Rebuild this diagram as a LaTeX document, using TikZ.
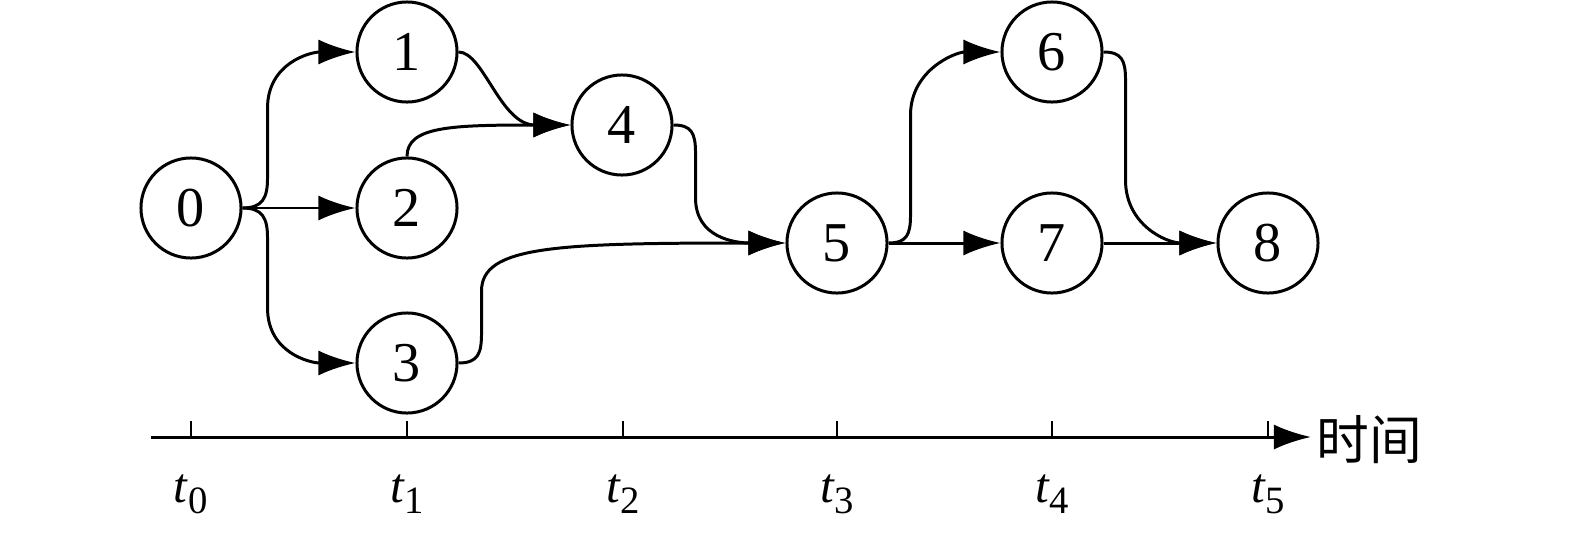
\documentclass[tikz,border=0pt]{standalone}
\usepackage{fontspec}
\setmainfont{Liberation Serif}
\newfontfamily\cjk{Noto Sans CJK SC}
\usetikzlibrary{arrows.meta}
\newcommand\tsub[1]{\textit{t}\raisebox{-3.4pt}{\fontsize{11}{11}\selectfont #1}}
\tikzset{event/.style={circle,draw,line width=0.85pt,minimum size=1cm,inner sep=0pt,
    font=\fontsize{16}{16}\selectfont},
    arr/.style={-{Latex[length=3.7mm,width=2.5mm]},line width=0.85pt},
    tickmark/.style={line width=0.6pt},
    tlabel/.style={anchor=base,font=\fontsize{14}{14}\selectfont},
    }

\begin{document}
\begin{tikzpicture}[x=0.01cm,y=-0.01cm]
\useasboundingbox (0,0) rectangle (1575,533);
\node[event] (n0) at (191,208) {0};
\node[event] (n1) at (407,52) {1};
\node[event] (n2) at (407,208) {2};
\node[event] (n3) at (407,363) {3};
\node[event] (n4) at (622,125) {4};
\node[event] (n5) at (837,243) {5};
\node[event] (n6) at (1052,52) {6};
\node[event] (n7) at (1052,243) {7};
\node[event] (n8) at (1268,243) {8};

\draw[arr] (n0.east) -- (n2.west);
\draw[arr] (n0.east) .. controls +(20,0) and +(0,20) .. ++(25,-30) -- ++(0,-70)
    .. controls +(0,-45) and +(-45,0) .. (n1.west);
\draw[arr] (n0.east) .. controls +(20,0) and +(0,-20) .. ++(25,30) -- ++(0,70)
    .. controls +(0,45) and +(-45,0) .. (n3.west);
\draw[arr] (n1.east) .. controls +(25,0) and +(-70,0) .. (n4.west);
\draw[arr] (n2.north) .. controls +(0,-30) and +(-120,0) .. (n4.west);
\draw[arr] (n3.east) .. controls +(20,0) and +(0,20) .. ++(23,-30) -- ++(0,-42)
    .. controls +(0,-45) and +(-230,0) .. (n5.west);
\draw[arr] (n4.east) .. controls +(18,0) and +(0,-20) .. ++(22,28) -- ++(0,45)
    .. controls +(0,40) and +(-50,0) .. (n5.west);
\draw[arr] (n5.east) .. controls +(18,0) and +(0,20) .. ++(22,-28) -- ++(0,-100)
    .. controls +(0,-45) and +(-45,0) .. (n6.west);
\draw[arr] (n5.east) -- (n7.west);
\draw[arr] (n6.east) .. controls +(18,0) and +(0,-20) .. ++(22,28) -- ++(0,100)
    .. controls +(0,45) and +(-50,0) .. (n8.west);
\draw[arr] (n7.east) -- (n8.west);

% time axis
\coordinate (ax0) at (151,437);
\node[anchor=west,inner sep=1.5pt,font=\cjk\fontsize{15}{15}\selectfont] (time) at (1311,440) {时间};
\draw[arr] (ax0) -- (ax0 -| time.west);
\foreach \x [count=\i from 0] in {191,407,623,837,1052,1268}{
  \draw[tickmark] (\x,437) -- ++(0,-16);
  \node[tlabel] (t\i) at (\x,502) {\tsub{\i}};
}
\end{tikzpicture}
\end{document}
